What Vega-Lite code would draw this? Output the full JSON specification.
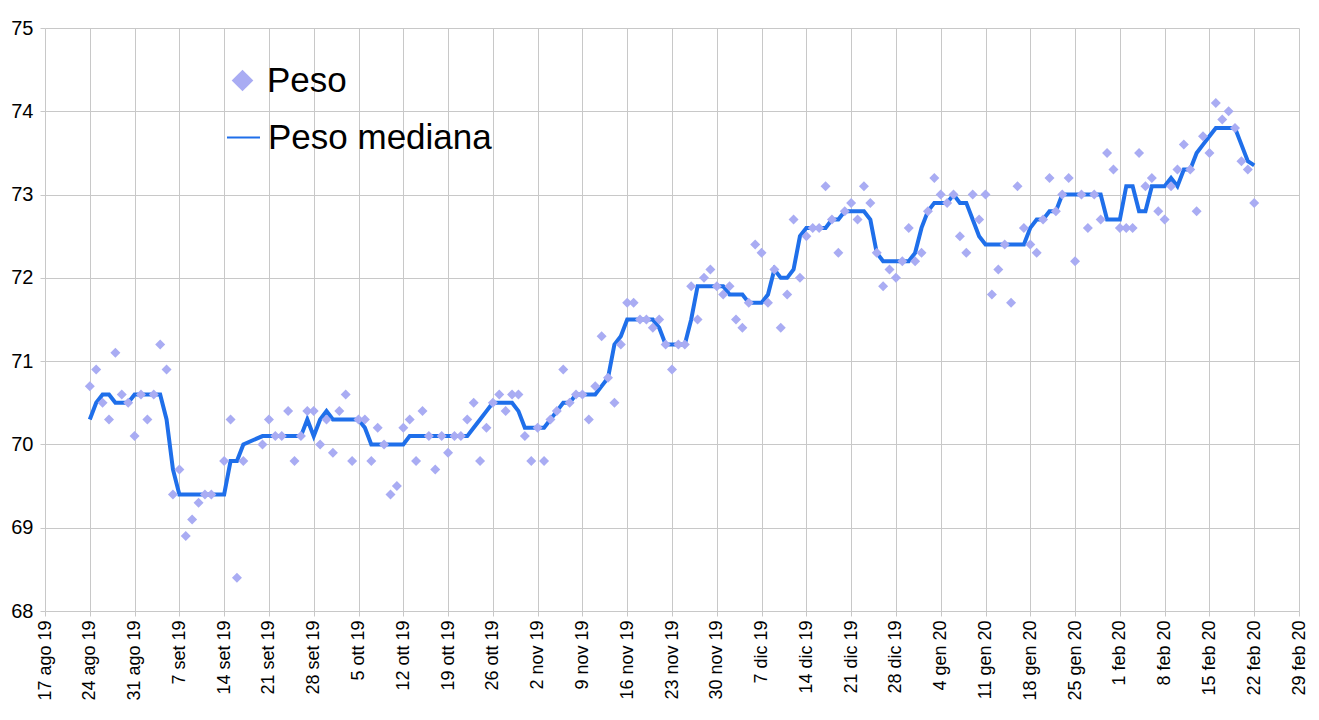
{
  "$schema": "https://vega.github.io/schema/vega-lite/v6.json",
  "width": 1254,
  "height": 583,
  "autosize": {"type": "none"},
  "padding": {"left": 45, "top": 28, "right": 20, "bottom": 109},
  "background": "#ffffff",
  "config": {
    "view": {"stroke": null},
    "axis": {
      "labelFont": "Liberation Sans",
      "labelColor": "#000000",
      "gridColor": "#c8c8c8",
      "tickColor": "#c8c8c8",
      "domain": false,
      "title": null
    },
    "legend": {
      "title": null,
      "orient": "none",
      "padding": 0,
      "labelFont": "Liberation Sans",
      "labelFontSize": 35,
      "labelColor": "#000000",
      "labelLimit": 400
    }
  },
  "data": {
    "values": [
      {"data": "2019-08-24", "peso": 70.7, "mediana": 70.3},
      {"data": "2019-08-25", "peso": 70.9, "mediana": 70.5},
      {"data": "2019-08-26", "peso": 70.5, "mediana": 70.6},
      {"data": "2019-08-27", "peso": 70.3, "mediana": 70.6},
      {"data": "2019-08-28", "peso": 71.1, "mediana": 70.5},
      {"data": "2019-08-29", "peso": 70.6, "mediana": 70.5},
      {"data": "2019-08-30", "peso": 70.5, "mediana": 70.5},
      {"data": "2019-08-31", "peso": 70.1, "mediana": 70.6},
      {"data": "2019-09-01", "peso": 70.6, "mediana": 70.6},
      {"data": "2019-09-02", "peso": 70.3, "mediana": 70.6},
      {"data": "2019-09-03", "peso": 70.6, "mediana": 70.6},
      {"data": "2019-09-04", "peso": 71.2, "mediana": 70.6},
      {"data": "2019-09-05", "peso": 70.9, "mediana": 70.3},
      {"data": "2019-09-06", "peso": 69.4, "mediana": 69.7},
      {"data": "2019-09-07", "peso": 69.7, "mediana": 69.4},
      {"data": "2019-09-08", "peso": 68.9, "mediana": 69.4},
      {"data": "2019-09-09", "peso": 69.1, "mediana": 69.4},
      {"data": "2019-09-10", "peso": 69.3, "mediana": 69.4},
      {"data": "2019-09-11", "peso": 69.4, "mediana": 69.4},
      {"data": "2019-09-12", "peso": 69.4, "mediana": 69.4},
      {"data": "2019-09-14", "peso": 69.8, "mediana": 69.4},
      {"data": "2019-09-15", "peso": 70.3, "mediana": 69.8},
      {"data": "2019-09-16", "peso": 68.4, "mediana": 69.8},
      {"data": "2019-09-17", "peso": 69.8, "mediana": 70.0},
      {"data": "2019-09-20", "peso": 70.0, "mediana": 70.1},
      {"data": "2019-09-21", "peso": 70.3, "mediana": 70.1},
      {"data": "2019-09-22", "peso": 70.1, "mediana": 70.1},
      {"data": "2019-09-23", "peso": 70.1, "mediana": 70.1},
      {"data": "2019-09-24", "peso": 70.4, "mediana": 70.1},
      {"data": "2019-09-25", "peso": 69.8, "mediana": 70.1},
      {"data": "2019-09-26", "peso": 70.1, "mediana": 70.1},
      {"data": "2019-09-27", "peso": 70.4, "mediana": 70.3},
      {"data": "2019-09-28", "peso": 70.4, "mediana": 70.1},
      {"data": "2019-09-29", "peso": 70.0, "mediana": 70.3},
      {"data": "2019-09-30", "peso": 70.3, "mediana": 70.4},
      {"data": "2019-10-01", "peso": 69.9, "mediana": 70.3},
      {"data": "2019-10-02", "peso": 70.4, "mediana": 70.3},
      {"data": "2019-10-03", "peso": 70.6, "mediana": 70.3},
      {"data": "2019-10-04", "peso": 69.8, "mediana": 70.3},
      {"data": "2019-10-05", "peso": 70.3, "mediana": 70.3},
      {"data": "2019-10-06", "peso": 70.3, "mediana": 70.2},
      {"data": "2019-10-07", "peso": 69.8, "mediana": 70.0},
      {"data": "2019-10-08", "peso": 70.2, "mediana": 70.0},
      {"data": "2019-10-09", "peso": 70.0, "mediana": 70.0},
      {"data": "2019-10-10", "peso": 69.4, "mediana": 70.0},
      {"data": "2019-10-11", "peso": 69.5, "mediana": 70.0},
      {"data": "2019-10-12", "peso": 70.2, "mediana": 70.0},
      {"data": "2019-10-13", "peso": 70.3, "mediana": 70.1},
      {"data": "2019-10-14", "peso": 69.8, "mediana": 70.1},
      {"data": "2019-10-15", "peso": 70.4, "mediana": 70.1},
      {"data": "2019-10-16", "peso": 70.1, "mediana": 70.1},
      {"data": "2019-10-17", "peso": 69.7, "mediana": 70.1},
      {"data": "2019-10-18", "peso": 70.1, "mediana": 70.1},
      {"data": "2019-10-19", "peso": 69.9, "mediana": 70.1},
      {"data": "2019-10-20", "peso": 70.1, "mediana": 70.1},
      {"data": "2019-10-21", "peso": 70.1, "mediana": 70.1},
      {"data": "2019-10-22", "peso": 70.3, "mediana": 70.1},
      {"data": "2019-10-23", "peso": 70.5, "mediana": 70.2},
      {"data": "2019-10-24", "peso": 69.8, "mediana": 70.3},
      {"data": "2019-10-25", "peso": 70.2, "mediana": 70.4},
      {"data": "2019-10-26", "peso": 70.5, "mediana": 70.5},
      {"data": "2019-10-27", "peso": 70.6, "mediana": 70.5},
      {"data": "2019-10-28", "peso": 70.4, "mediana": 70.5},
      {"data": "2019-10-29", "peso": 70.6, "mediana": 70.5},
      {"data": "2019-10-30", "peso": 70.6, "mediana": 70.4},
      {"data": "2019-10-31", "peso": 70.1, "mediana": 70.2},
      {"data": "2019-11-01", "peso": 69.8, "mediana": 70.2},
      {"data": "2019-11-02", "peso": 70.2, "mediana": 70.2},
      {"data": "2019-11-03", "peso": 69.8, "mediana": 70.2},
      {"data": "2019-11-04", "peso": 70.3, "mediana": 70.3},
      {"data": "2019-11-05", "peso": 70.4, "mediana": 70.4},
      {"data": "2019-11-06", "peso": 70.9, "mediana": 70.5},
      {"data": "2019-11-07", "peso": 70.5, "mediana": 70.5},
      {"data": "2019-11-08", "peso": 70.6, "mediana": 70.6},
      {"data": "2019-11-09", "peso": 70.6, "mediana": 70.6},
      {"data": "2019-11-10", "peso": 70.3, "mediana": 70.6},
      {"data": "2019-11-11", "peso": 70.7, "mediana": 70.6},
      {"data": "2019-11-12", "peso": 71.3, "mediana": 70.7},
      {"data": "2019-11-13", "peso": 70.8, "mediana": 70.8},
      {"data": "2019-11-14", "peso": 70.5, "mediana": 71.2},
      {"data": "2019-11-15", "peso": 71.2, "mediana": 71.3},
      {"data": "2019-11-16", "peso": 71.7, "mediana": 71.5},
      {"data": "2019-11-17", "peso": 71.7, "mediana": 71.5},
      {"data": "2019-11-18", "peso": 71.5, "mediana": 71.5},
      {"data": "2019-11-19", "peso": 71.5, "mediana": 71.5},
      {"data": "2019-11-20", "peso": 71.4, "mediana": 71.5},
      {"data": "2019-11-21", "peso": 71.5, "mediana": 71.4},
      {"data": "2019-11-22", "peso": 71.2, "mediana": 71.2},
      {"data": "2019-11-23", "peso": 70.9, "mediana": 71.2},
      {"data": "2019-11-24", "peso": 71.2, "mediana": 71.2},
      {"data": "2019-11-25", "peso": 71.2, "mediana": 71.2},
      {"data": "2019-11-26", "peso": 71.9, "mediana": 71.5},
      {"data": "2019-11-27", "peso": 71.5, "mediana": 71.9},
      {"data": "2019-11-28", "peso": 72.0, "mediana": 71.9},
      {"data": "2019-11-29", "peso": 72.1, "mediana": 71.9},
      {"data": "2019-11-30", "peso": 71.9, "mediana": 71.9},
      {"data": "2019-12-01", "peso": 71.8, "mediana": 71.9},
      {"data": "2019-12-02", "peso": 71.9, "mediana": 71.8},
      {"data": "2019-12-03", "peso": 71.5, "mediana": 71.8},
      {"data": "2019-12-04", "peso": 71.4, "mediana": 71.8},
      {"data": "2019-12-05", "peso": 71.7, "mediana": 71.7},
      {"data": "2019-12-06", "peso": 72.4, "mediana": 71.7},
      {"data": "2019-12-07", "peso": 72.3, "mediana": 71.7},
      {"data": "2019-12-08", "peso": 71.7, "mediana": 71.8},
      {"data": "2019-12-09", "peso": 72.1, "mediana": 72.1},
      {"data": "2019-12-10", "peso": 71.4, "mediana": 72.0},
      {"data": "2019-12-11", "peso": 71.8, "mediana": 72.0},
      {"data": "2019-12-12", "peso": 72.7, "mediana": 72.1},
      {"data": "2019-12-13", "peso": 72.0, "mediana": 72.5},
      {"data": "2019-12-14", "peso": 72.5, "mediana": 72.6},
      {"data": "2019-12-15", "peso": 72.6, "mediana": 72.6},
      {"data": "2019-12-16", "peso": 72.6, "mediana": 72.6},
      {"data": "2019-12-17", "peso": 73.1, "mediana": 72.6},
      {"data": "2019-12-18", "peso": 72.7, "mediana": 72.7},
      {"data": "2019-12-19", "peso": 72.3, "mediana": 72.7},
      {"data": "2019-12-20", "peso": 72.8, "mediana": 72.8},
      {"data": "2019-12-21", "peso": 72.9, "mediana": 72.8},
      {"data": "2019-12-22", "peso": 72.7, "mediana": 72.8},
      {"data": "2019-12-23", "peso": 73.1, "mediana": 72.8},
      {"data": "2019-12-24", "peso": 72.9, "mediana": 72.7},
      {"data": "2019-12-25", "peso": 72.3, "mediana": 72.3},
      {"data": "2019-12-26", "peso": 71.9, "mediana": 72.2},
      {"data": "2019-12-27", "peso": 72.1, "mediana": 72.2},
      {"data": "2019-12-28", "peso": 72.0, "mediana": 72.2},
      {"data": "2019-12-29", "peso": 72.2, "mediana": 72.2},
      {"data": "2019-12-30", "peso": 72.6, "mediana": 72.2},
      {"data": "2019-12-31", "peso": 72.2, "mediana": 72.3},
      {"data": "2020-01-01", "peso": 72.3, "mediana": 72.6},
      {"data": "2020-01-02", "peso": 72.8, "mediana": 72.8},
      {"data": "2020-01-03", "peso": 73.2, "mediana": 72.9},
      {"data": "2020-01-04", "peso": 73.0, "mediana": 72.9},
      {"data": "2020-01-05", "peso": 72.9, "mediana": 72.9},
      {"data": "2020-01-06", "peso": 73.0, "mediana": 73.0},
      {"data": "2020-01-07", "peso": 72.5, "mediana": 72.9},
      {"data": "2020-01-08", "peso": 72.3, "mediana": 72.9},
      {"data": "2020-01-09", "peso": 73.0, "mediana": 72.7},
      {"data": "2020-01-10", "peso": 72.7, "mediana": 72.5},
      {"data": "2020-01-11", "peso": 73.0, "mediana": 72.4},
      {"data": "2020-01-12", "peso": 71.8, "mediana": 72.4},
      {"data": "2020-01-13", "peso": 72.1, "mediana": 72.4},
      {"data": "2020-01-14", "peso": 72.4, "mediana": 72.4},
      {"data": "2020-01-15", "peso": 71.7, "mediana": 72.4},
      {"data": "2020-01-16", "peso": 73.1, "mediana": 72.4},
      {"data": "2020-01-17", "peso": 72.6, "mediana": 72.4},
      {"data": "2020-01-18", "peso": 72.4, "mediana": 72.6},
      {"data": "2020-01-19", "peso": 72.3, "mediana": 72.7},
      {"data": "2020-01-20", "peso": 72.7, "mediana": 72.7},
      {"data": "2020-01-21", "peso": 73.2, "mediana": 72.8},
      {"data": "2020-01-22", "peso": 72.8, "mediana": 72.8},
      {"data": "2020-01-23", "peso": 73.0, "mediana": 73.0},
      {"data": "2020-01-24", "peso": 73.2, "mediana": 73.0},
      {"data": "2020-01-25", "peso": 72.2, "mediana": 73.0},
      {"data": "2020-01-26", "peso": 73.0, "mediana": 73.0},
      {"data": "2020-01-27", "peso": 72.6, "mediana": 73.0},
      {"data": "2020-01-28", "peso": 73.0, "mediana": 73.0},
      {"data": "2020-01-29", "peso": 72.7, "mediana": 73.0},
      {"data": "2020-01-30", "peso": 73.5, "mediana": 72.7},
      {"data": "2020-01-31", "peso": 73.3, "mediana": 72.7},
      {"data": "2020-02-01", "peso": 72.6, "mediana": 72.7},
      {"data": "2020-02-02", "peso": 72.6, "mediana": 73.1},
      {"data": "2020-02-03", "peso": 72.6, "mediana": 73.1},
      {"data": "2020-02-04", "peso": 73.5, "mediana": 72.8},
      {"data": "2020-02-05", "peso": 73.1, "mediana": 72.8},
      {"data": "2020-02-06", "peso": 73.2, "mediana": 73.1},
      {"data": "2020-02-07", "peso": 72.8, "mediana": 73.1},
      {"data": "2020-02-08", "peso": 72.7, "mediana": 73.1},
      {"data": "2020-02-09", "peso": 73.1, "mediana": 73.2},
      {"data": "2020-02-10", "peso": 73.3, "mediana": 73.1},
      {"data": "2020-02-11", "peso": 73.6, "mediana": 73.3},
      {"data": "2020-02-12", "peso": 73.3, "mediana": 73.3},
      {"data": "2020-02-13", "peso": 72.8, "mediana": 73.5},
      {"data": "2020-02-14", "peso": 73.7, "mediana": 73.6},
      {"data": "2020-02-15", "peso": 73.5, "mediana": 73.7},
      {"data": "2020-02-16", "peso": 74.1, "mediana": 73.8},
      {"data": "2020-02-17", "peso": 73.9, "mediana": 73.8},
      {"data": "2020-02-18", "peso": 74.0, "mediana": 73.8},
      {"data": "2020-02-19", "peso": 73.8, "mediana": 73.8},
      {"data": "2020-02-20", "peso": 73.4, "mediana": 73.6},
      {"data": "2020-02-21", "peso": 73.3, "mediana": 73.4},
      {"data": "2020-02-22", "peso": 72.9, "mediana": 73.35}
    ]
  },
  "encoding": {
    "x": {
      "field": "data",
      "type": "temporal",
      "scale": {
        "type": "utc",
        "nice": false,
        "domain": [
          {"year": 2019, "month": 8, "date": 17, "utc": true},
          {"year": 2020, "month": 2, "date": 29, "utc": true}
        ]
      },
      "axis": {
        "values": [
          {"year": 2019, "month": 8, "date": 17, "utc": true},
          {"year": 2019, "month": 8, "date": 24, "utc": true},
          {"year": 2019, "month": 8, "date": 31, "utc": true},
          {"year": 2019, "month": 9, "date": 7, "utc": true},
          {"year": 2019, "month": 9, "date": 14, "utc": true},
          {"year": 2019, "month": 9, "date": 21, "utc": true},
          {"year": 2019, "month": 9, "date": 28, "utc": true},
          {"year": 2019, "month": 10, "date": 5, "utc": true},
          {"year": 2019, "month": 10, "date": 12, "utc": true},
          {"year": 2019, "month": 10, "date": 19, "utc": true},
          {"year": 2019, "month": 10, "date": 26, "utc": true},
          {"year": 2019, "month": 11, "date": 2, "utc": true},
          {"year": 2019, "month": 11, "date": 9, "utc": true},
          {"year": 2019, "month": 11, "date": 16, "utc": true},
          {"year": 2019, "month": 11, "date": 23, "utc": true},
          {"year": 2019, "month": 11, "date": 30, "utc": true},
          {"year": 2019, "month": 12, "date": 7, "utc": true},
          {"year": 2019, "month": 12, "date": 14, "utc": true},
          {"year": 2019, "month": 12, "date": 21, "utc": true},
          {"year": 2019, "month": 12, "date": 28, "utc": true},
          {"year": 2020, "month": 1, "date": 4, "utc": true},
          {"year": 2020, "month": 1, "date": 11, "utc": true},
          {"year": 2020, "month": 1, "date": 18, "utc": true},
          {"year": 2020, "month": 1, "date": 25, "utc": true},
          {"year": 2020, "month": 2, "date": 1, "utc": true},
          {"year": 2020, "month": 2, "date": 8, "utc": true},
          {"year": 2020, "month": 2, "date": 15, "utc": true},
          {"year": 2020, "month": 2, "date": 22, "utc": true},
          {"year": 2020, "month": 2, "date": 29, "utc": true}
        ],
        "labelExpr": "utcdate(datum.value) + ' ' + ['gen','feb','mar','apr','mag','giu','lug','ago','set','ott','nov','dic'][utcmonth(datum.value)] + ' ' + slice(toString(utcyear(datum.value)), 2)",
        "labelAngle": 270,
        "labelFontSize": 18,
        "labelPadding": 4,
        "labelFlush": false,
        "labelOverlap": false,
        "labelBound": false,
        "tickSize": 5,
        "grid": true
      }
    }
  },
  "layer": [
    {
      "mark": {"type": "line", "strokeWidth": 4, "interpolate": "linear"},
      "encoding": {
        "y": {
          "field": "mediana",
          "type": "quantitative",
          "scale": {"domain": [68, 75], "zero": false, "nice": false},
          "axis": {
            "values": [68, 69, 70, 71, 72, 73, 74, 75],
            "format": "d",
            "labelFontSize": 20,
            "labelPadding": 7,
            "tickSize": 5,
            "grid": true
          }
        },
        "stroke": {
          "datum": "Peso mediana",
          "type": "nominal",
          "scale": {"range": ["#1f6fea"]},
          "legend": {
            "legendX": 181,
            "legendY": 92,
            "labelOffset": 7,
            "symbolType": "stroke",
            "symbolSize": 1089,
            "symbolStrokeWidth": 2
          }
        }
      }
    },
    {
      "mark": {"type": "point", "shape": "diamond", "filled": true, "size": 100, "opacity": 1},
      "encoding": {
        "y": {"field": "peso", "type": "quantitative"},
        "fill": {
          "datum": "Peso",
          "type": "nominal",
          "scale": {"range": ["#a9acf3"]},
          "legend": {
            "legendX": 180,
            "legendY": 35,
            "labelOffset": 7,
            "symbolType": "diamond",
            "symbolSize": 470,
            "symbolStrokeWidth": 0,
            "symbolOpacity": 1
          }
        }
      }
    }
  ]
}
